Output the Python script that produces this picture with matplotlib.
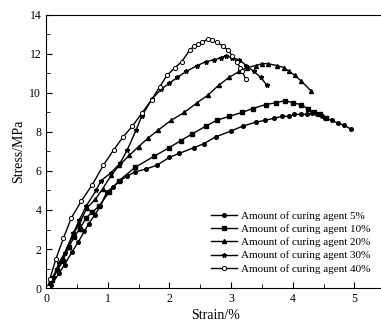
import matplotlib.pyplot as plt

plt.rcParams['font.family'] = ['Liberation Serif', 'DejaVu Serif']

# Stress-strain data for each curing agent content
strain_5 = [0.02, 0.08, 0.21, 0.30, 0.42, 0.52, 0.62, 0.69, 0.79, 0.88, 0.98, 1.09, 1.20,
            1.32, 1.44, 1.62, 1.80, 2.00, 2.16, 2.40, 2.56, 2.75, 3.00, 3.19, 3.40, 3.55,
            3.70, 3.82, 3.94, 4.02, 4.13, 4.23, 4.31, 4.40, 4.47, 4.53, 4.63, 4.73, 4.83, 4.94]
stress_5 = [0.00, 0.15, 0.75, 1.20, 1.85, 2.35, 2.90, 3.30, 3.75, 4.20, 4.90, 5.20, 5.50,
            5.75, 5.95, 6.10, 6.30, 6.70, 6.90, 7.20, 7.40, 7.75, 8.05, 8.30, 8.50, 8.60,
            8.70, 8.80, 8.80, 8.90, 8.90, 8.90, 8.95, 8.90, 8.80, 8.70, 8.60, 8.45, 8.35, 8.15]

strain_10 = [0.03, 0.10, 0.18, 0.27, 0.37, 0.45, 0.55, 0.65, 0.75, 0.86, 1.02, 1.18, 1.45,
             1.75, 2.00, 2.18, 2.37, 2.59, 2.77, 2.97, 3.18, 3.35, 3.56, 3.73, 3.87, 4.00,
             4.13, 4.24, 4.34, 4.45, 4.54]
stress_10 = [0.05, 0.40, 0.90, 1.40, 2.10, 2.60, 3.05, 3.60, 3.90, 4.20, 4.90, 5.50, 6.20,
             6.75, 7.20, 7.55, 7.90, 8.30, 8.60, 8.80, 9.00, 9.20, 9.40, 9.50, 9.60, 9.50,
             9.40, 9.20, 9.00, 8.90, 8.70]

strain_20 = [0.05, 0.10, 0.18, 0.27, 0.35, 0.43, 0.54, 0.66, 0.80, 0.92, 1.06, 1.19, 1.35,
             1.50, 1.66, 1.82, 2.03, 2.24, 2.45, 2.63, 2.80, 2.97, 3.13, 3.26, 3.40, 3.50,
             3.60, 3.75, 3.86, 3.94, 4.04, 4.14, 4.30]
stress_20 = [0.10, 0.50, 1.00, 1.50, 2.10, 2.70, 3.30, 4.10, 4.55, 5.10, 5.80, 6.30, 6.80,
             7.25, 7.70, 8.10, 8.60, 9.00, 9.50, 9.90, 10.40, 10.80, 11.10, 11.30, 11.40, 11.50,
             11.50, 11.40, 11.30, 11.10, 10.90, 10.60, 10.10]

strain_30 = [0.05, 0.12, 0.21, 0.30, 0.44, 0.54, 0.65, 0.81, 0.89, 1.05, 1.20, 1.32, 1.46,
             1.55, 1.72, 1.87, 2.00, 2.13, 2.27, 2.45, 2.59, 2.72, 2.84, 2.91, 3.02, 3.13,
             3.25, 3.37, 3.48, 3.58]
stress_30 = [0.10, 0.55, 1.30, 1.80, 2.80, 3.50, 4.20, 5.00, 5.50, 5.90, 6.40, 7.10, 8.10,
             8.80, 9.70, 10.20, 10.50, 10.80, 11.10, 11.40, 11.60, 11.70, 11.80, 11.90, 11.80, 11.70,
             11.40, 11.10, 10.80, 10.40]

strain_40 = [0.03, 0.06, 0.16, 0.28, 0.41, 0.57, 0.75, 0.93, 1.10, 1.25, 1.40, 1.55, 1.71,
             1.84, 1.96, 2.09, 2.20, 2.33, 2.40, 2.46, 2.53, 2.63, 2.69, 2.77, 2.87, 2.95,
             3.02, 3.09, 3.15, 3.18, 3.24]
stress_40 = [0.05, 0.45, 1.50, 2.55, 3.60, 4.45, 5.30, 6.30, 7.10, 7.75, 8.30, 8.95, 9.65,
             10.30, 10.90, 11.30, 11.60, 12.20, 12.40, 12.50, 12.60, 12.77, 12.70, 12.60, 12.40, 12.20,
             11.90, 11.60, 11.30, 11.10, 10.70]

labels = ['Amount of curing agent 5%', 'Amount of curing agent 10%',
          'Amount of curing agent 20%', 'Amount of curing agent 30%',
          'Amount of curing agent 40%']

fig = plt.figure(figsize=(3.81, 3.24), dpi=100)
ax = fig.add_axes([0.121, 0.111, 0.89, 0.843])

ax.plot(strain_5, stress_5, 'k-', marker='o', ms=2.6, lw=1.0, label=labels[0])
ax.plot(strain_10, stress_10, 'k-', marker='s', ms=2.4, lw=1.0, label=labels[1])
ax.plot(strain_20, stress_20, 'k-', marker='^', ms=2.9, lw=1.0, label=labels[2])
ax.plot(strain_30, stress_30, 'k-', marker='*', ms=3.4, lw=1.0, label=labels[3])
ax.plot(strain_40, stress_40, 'k-', marker='o', ms=3.0, lw=1.0, mfc='white', mew=0.7,
        label=labels[4])

ax.set_xlim(0, 5.5)
ax.set_ylim(0, 14)
ax.set_xticks([0, 1, 2, 3, 4, 5])
ax.set_xticks([0.5, 1.5, 2.5, 3.5, 4.5], minor=True)
ax.set_yticks([0, 2, 4, 6, 8, 10, 12, 14])
ax.set_yticks([1, 3, 5, 7, 9, 11, 13], minor=True)
ax.tick_params(which='both', direction='in', labelsize=8.5, top=False, right=False)
ax.tick_params(which='major', length=4)
ax.tick_params(which='minor', length=3)
ax.spines['right'].set_visible(False)

ax.set_xlabel('Strain/%', fontsize=10, labelpad=3)
ax.set_ylabel('Stress/MPa', fontsize=10, labelpad=3)

ax.legend(loc='lower right', bbox_to_anchor=(1.0, 0.0), frameon=False, fontsize=8,
          handlelength=2.3, handletextpad=0.4, labelspacing=0.3, borderaxespad=0.9)

fig.savefig('out.png', dpi=100)
